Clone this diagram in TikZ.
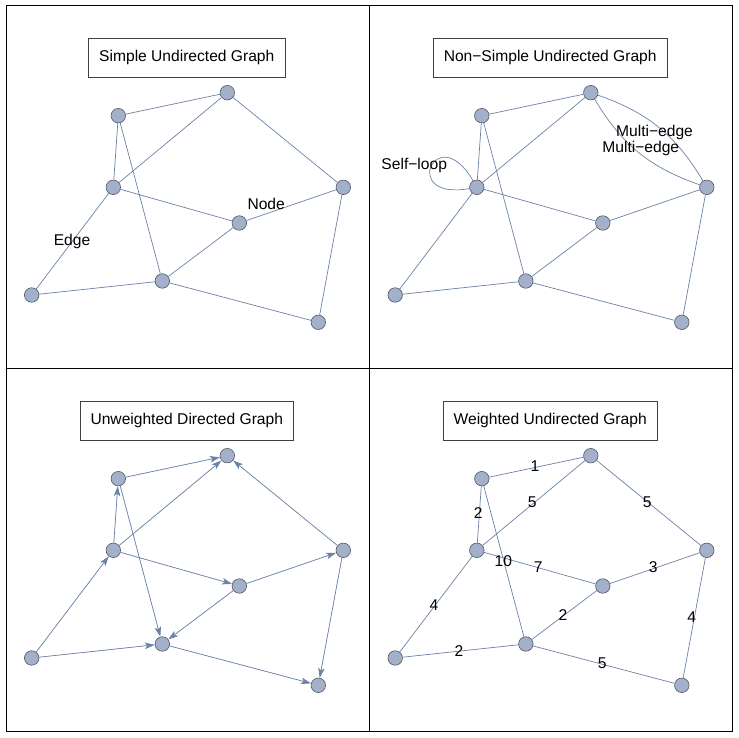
\documentclass[tikz,border=0pt]{standalone}
\usepackage{fontspec}
\setmainfont{Liberation Sans}
\usetikzlibrary{arrows.meta}
\definecolor{edgec}{rgb}{0.42,0.51,0.66}
\definecolor{vfill}{rgb}{0.64,0.69,0.79}
\definecolor{vline}{rgb}{0.32,0.34,0.38}
\newcommand\gnodes[1]{%
\node[vtx] (#1a) at (118.3,621.3) {};
\node[vtx] (#1b) at (227.3,644.3) {};
\node[vtx] (#1c) at (113.3,549.7) {};
\node[vtx] (#1d) at (343.3,549.7) {};
\node[vtx] (#1e) at (239.3,514) {};
\node[vtx] (#1f) at (31.7,442) {};
\node[vtx] (#1g) at (162.3,456) {};
\node[vtx] (#1h) at (318.3,414.7) {};}
\begin{document}
\begin{tikzpicture}[x=1pt,y=1pt,
  vtx/.style={circle,draw=vline,fill=vfill,line width=0.6pt,minimum size=14.5pt,inner sep=0pt},
  edg/.style={draw=edgec,line width=0.7pt},
  arr/.style={edg,-{Stealth[length=10pt,width=6.5pt,inset=2.5pt]},fill=edgec},
  ttl/.style={draw=black!75,line width=0.7pt,minimum height=39pt,inner xsep=10.5pt,font=\fontsize{15.6}{18}\selectfont},
  lbl/.style={font=\fontsize{15.6}{18}\selectfont,inner sep=0pt}]
\useasboundingbox (0,0) rectangle (739,737);
\fill[white] (0,0) rectangle (739,737);
\draw[line width=0.8pt] (6,6) rectangle (732,732);
\draw[line width=0.8pt] (369,6) -- (369,732);
\draw[line width=0.8pt] (6,369) -- (732,369);
% Panel 1
\node[ttl] (T1) at (186.8,679.2) {Simple Undirected Graph};
\begin{scope}
\gnodes{P}
\end{scope}
\path (Pa) edge[edg] (Pb) (Pa) edge[edg] (Pc) (Pa) edge[edg] (Pg)
      (Pb) edge[edg] (Pc) (Pb) edge[edg] (Pd) (Pc) edge[edg] (Pe)
      (Pc) edge[edg] (Pf) (Pd) edge[edg] (Pe) (Pd) edge[edg] (Ph)
      (Pe) edge[edg] (Pg) (Pf) edge[edg] (Pg) (Pg) edge[edg] (Ph);
\node[lbl] (LN) at (266.2,532.8) {Node};
\node[lbl] (LE) at (72,495.7) {Edge};
% Panel 2
\node[ttl] (T2) at (550.2,679.2) {Non−Simple Undirected Graph};
\begin{scope}[xshift=363.5pt]
\gnodes{Q}
\end{scope}
\path (Qa) edge[edg] (Qb) (Qa) edge[edg] (Qc) (Qa) edge[edg] (Qg)
      (Qb) edge[edg] (Qc) (Qc) edge[edg] (Qe)
      (Qc) edge[edg] (Qf) (Qd) edge[edg] (Qe) (Qd) edge[edg] (Qh)
      (Qe) edge[edg] (Qg) (Qf) edge[edg] (Qg) (Qg) edge[edg] (Qh);
\draw[edg] (Qb) to[bend left=20] (Qd);
\draw[edg] (Qb) to[bend right=20] (Qd);
\draw[edg] (Qc) to[out=120,in=190,distance=72pt] (Qc);
\node[lbl] (LS) at (414.2,571.2) {Self−loop};
\node[lbl] (LM1) at (654.5,604.5) {Multi−edge};
\node[lbl] (LM2) at (640.8,588.5) {Multi−edge};
% Panel 3
\node[ttl] (T3) at (186.8,316.2) {Unweighted Directed Graph};
\begin{scope}[yshift=-363pt]
\gnodes{R}
\end{scope}
\path (Ra) edge[arr] (Rb) (Rc) edge[arr] (Ra) (Rc) edge[arr] (Rb)
      (Rc) edge[arr] (Re) (Rf) edge[arr] (Rc) (Rf) edge[arr] (Rg)
      (Ra) edge[arr] (Rg) (Re) edge[arr] (Rg) (Re) edge[arr] (Rd)
      (Rd) edge[arr] (Rb) (Rd) edge[arr] (Rh) (Rg) edge[arr] (Rh);
% Panel 4
\node[ttl] (T4) at (550.2,316.2) {Weighted Undirected Graph};
\begin{scope}[xshift=363.5pt,yshift=-363pt]
\gnodes{S}
\end{scope}
\path (Sa) edge[edg] (Sb) (Sa) edge[edg] (Sc) (Sa) edge[edg] (Sg)
      (Sb) edge[edg] (Sc) (Sb) edge[edg] (Sd) (Sc) edge[edg] (Se)
      (Sc) edge[edg] (Sf) (Sd) edge[edg] (Se) (Sd) edge[edg] (Sh)
      (Se) edge[edg] (Sg) (Sf) edge[edg] (Sg) (Sg) edge[edg] (Sh);
\node[lbl] (w1) at (535,270.7) {1};
\node[lbl] (w2) at (478.3,224) {2};
\node[lbl] (w3) at (532.3,234.7) {5};
\node[lbl] (w4) at (647.3,234.7) {5};
\node[lbl] (w5) at (503.3,176.3) {10};
\node[lbl] (w6) at (538.3,169.7) {7};
\node[lbl] (w7) at (653.3,169.7) {3};
\node[lbl] (w8) at (434,132.3) {4};
\node[lbl] (w9) at (563,122.3) {2};
\node[lbl] (w10) at (691.7,119.7) {4};
\node[lbl] (w11) at (459,85.7) {2};
\node[lbl] (w12) at (602.3,73.3) {5};
\end{tikzpicture}
\end{document}
